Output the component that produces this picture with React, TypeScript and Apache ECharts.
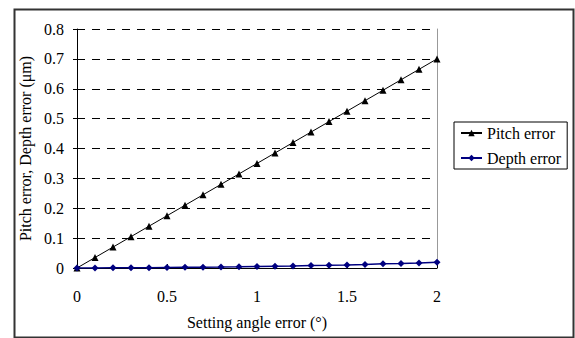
import React, { useEffect, useRef } from "react";
import * as echarts from "echarts";

const angles = [0, 0.1, 0.2, 0.3, 0.4, 0.5, 0.6, 0.7, 0.8, 0.9, 1.0, 1.1, 1.2, 1.3, 1.4, 1.5, 1.6, 1.7, 1.8, 1.9, 2.0];
const pitchError = [0, 0.035, 0.07, 0.105, 0.14, 0.175, 0.21, 0.245, 0.28, 0.315, 0.35, 0.385, 0.42, 0.455, 0.49, 0.525, 0.56, 0.595, 0.63, 0.665, 0.7];
const depthError = [0, 0.0002, 0.0005, 0.0008, 0.0012, 0.0018, 0.0022, 0.0027, 0.0032, 0.004, 0.005, 0.006, 0.0066, 0.008, 0.0088, 0.01, 0.0118, 0.014, 0.015, 0.0168, 0.0195];
const seriesNames = ["Pitch error", "Depth error"];
const xTitle = "Setting angle error (°)";
const yTitle = "Pitch error, Depth error (μm)";

const FONT = "'Liberation Serif', 'Times New Roman', 'DejaVu Serif', serif";

export default function App() {
  const ref = useRef<HTMLDivElement>(null);
  useEffect(() => {
    if (!ref.current) return;
    const chart = echarts.init(ref.current, undefined, { renderer: "svg" });
    chart.setOption({
      animation: false,
      backgroundColor: "#fff",
      textStyle: { fontFamily: FONT },
      grid: { left: 77, top: 29, right: 138, bottom: 70 },
      graphic: [
        {
          type: "rect",
          left: 12,
          top: 7,
          shape: { width: 559, height: 328 },
          style: { fill: "none", stroke: "#333", lineWidth: 2 },
          z: 10,
        },
      ],
      legend: {
        orient: "vertical",
        left: 454,
        top: 122,
        padding: [3, 6, 3, 6],
        itemGap: 9,
        itemWidth: 21,
        itemHeight: 8,
        borderColor: "#000",
        borderWidth: 1,
        borderRadius: 0,
        backgroundColor: "#fff",
        textStyle: { fontFamily: FONT, fontSize: 16, color: "#000" },
        data: seriesNames,
      },
      xAxis: {
        type: "value",
        min: 0,
        max: 2,
        interval: 0.5,
        name: xTitle,
        nameLocation: "middle",
        nameGap: 46,
        nameTextStyle: { fontFamily: FONT, fontSize: 16, color: "#000" },
        axisLine: { show: true, lineStyle: { color: "#000", width: 1 } },
        axisTick: { show: true, inside: true, length: 4, lineStyle: { color: "#000" } },
        axisLabel: { fontFamily: FONT, fontSize: 16, color: "#000", margin: 20 },
        splitLine: { show: false },
      },
      yAxis: [
        {
          type: "value",
          min: 0,
          max: 0.8,
          interval: 0.1,
          name: yTitle,
          nameLocation: "middle",
          nameGap: 44,
          nameTextStyle: { fontFamily: FONT, fontSize: 16, color: "#000" },
          axisLine: { show: true, lineStyle: { color: "#000", width: 1 } },
          axisTick: { show: true, inside: false, length: 4, lineStyle: { color: "#000" } },
          axisLabel: { fontFamily: FONT, fontSize: 16, color: "#000", margin: 13 },
          splitLine: { show: true, lineStyle: { color: "#000", type: [8, 7], width: 1 } },
        },
        {
          type: "value",
          min: 0,
          max: 0.8,
          interval: 0.1,
          position: "right",
          axisLine: { show: true, lineStyle: { color: "#999", width: 1 } },
          axisTick: { show: false },
          axisLabel: { show: false },
          splitLine: { show: false },
        },
      ],
      series: [
        {
          name: seriesNames[0],
          type: "line",
          data: angles.map((a, i) => [a, pitchError[i]]),
          symbol: "triangle",
          symbolSize: 7,
          lineStyle: { color: "#000", width: 1 },
          itemStyle: { color: "#000" },
          z: 3,
        },
        {
          name: seriesNames[1],
          type: "line",
          data: angles.map((a, i) => [a, depthError[i]]),
          symbol: "diamond",
          symbolSize: 7,
          lineStyle: { color: "#000080", width: 1.5 },
          itemStyle: { color: "#000080" },
          z: 4,
        },
      ],
    });
    return () => chart.dispose();
  }, []);
  return (
    <div
      ref={ref}
      style={{ position: "absolute", left: 0, top: 0, width: 575, height: 338 }}
    />
  );
}
